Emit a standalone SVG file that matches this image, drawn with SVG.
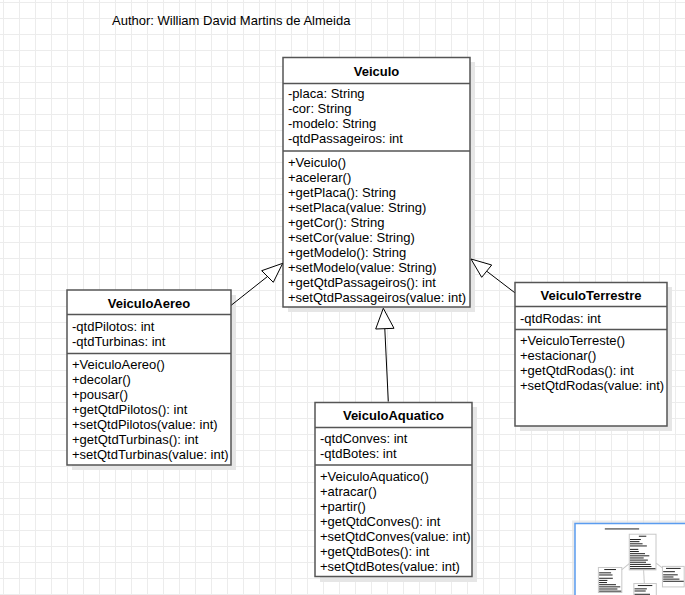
<svg xmlns="http://www.w3.org/2000/svg" width="685" height="595" viewBox="0 0 685 595">
<defs>
<pattern id="grid" x="3" y="2" width="16" height="16" patternUnits="userSpaceOnUse">
<path d="M0.5 0V16M0 0.5H16" stroke="#ececec" stroke-width="1" fill="none"/>
</pattern>
<style>
.box{fill:#fff;stroke:#555;stroke-width:1.5}
.shadow{fill:#e6e6e6}
.div{stroke:#555;stroke-width:1.5}
.t{font-family:"Liberation Sans",Arial,sans-serif;font-size:13px;fill:#000}
.b{font-weight:bold;text-anchor:middle}
.edge{stroke:#000;stroke-width:1;fill:none}
.head{fill:#fff;stroke:#000;stroke-width:1}
.mb{fill:#fff;stroke:#c8c8c8;stroke-width:7}
.bar{fill:#222}
</style>
</defs>
<rect width="685" height="595" fill="#fff"/>
<rect width="685" height="595" fill="url(#grid)"/>

<text class="t" x="112" y="25">Author: William David Martins de Almeida</text>

<g id="Veiculo">
<rect class="shadow" x="288" y="62" width="187" height="250"/>
<rect class="box" x="283" y="57.5" width="187" height="249.5"/>
<line class="div" x1="283" y1="83.5" x2="470" y2="83.5"/>
<line class="div" x1="283" y1="151" x2="470" y2="151"/>
<text class="t b" x="376.5" y="75.5">Veiculo</text>
<text class="t" x="288" y="98">-placa: String</text>
<text class="t" x="288" y="113">-cor: String</text>
<text class="t" x="288" y="128">-modelo: String</text>
<text class="t" x="288" y="143">-qtdPassageiros: int</text>
<text class="t" x="288" y="166.5">+Veiculo()</text>
<text class="t" x="288" y="181.5">+acelerar()</text>
<text class="t" x="288" y="196.5">+getPlaca(): String</text>
<text class="t" x="288" y="211.5">+setPlaca(value: String)</text>
<text class="t" x="288" y="226.5">+getCor(): String</text>
<text class="t" x="288" y="241.5">+setCor(value: String)</text>
<text class="t" x="288" y="256.5">+getModelo(): String</text>
<text class="t" x="288" y="271.5">+setModelo(value: String)</text>
<text class="t" x="288" y="286.5">+getQtdPassageiros(): int</text>
<text class="t" x="288" y="301.5">+setQtdPassageiros(value: int)</text>
</g>

<g id="VeiculoAereo">
<rect class="shadow" x="72" y="295" width="164" height="175"/>
<rect class="box" x="67" y="290" width="164" height="175"/>
<line class="div" x1="67" y1="314.5" x2="231" y2="314.5"/>
<line class="div" x1="67" y1="353.5" x2="231" y2="353.5"/>
<text class="t b" x="149" y="307.5">VeiculoAereo</text>
<text class="t" x="72" y="331">-qtdPilotos: int</text>
<text class="t" x="72" y="346">-qtdTurbinas: int</text>
<text class="t" x="72" y="369">+VeiculoAereo()</text>
<text class="t" x="72" y="384">+decolar()</text>
<text class="t" x="72" y="399">+pousar()</text>
<text class="t" x="72" y="414">+getQtdPilotos(): int</text>
<text class="t" x="72" y="429">+setQtdPilotos(value: int)</text>
<text class="t" x="72" y="444">+getQtdTurbinas(): int</text>
<text class="t" x="72" y="459">+setQtdTurbinas(value: int)</text>
</g>

<g id="VeiculoTerrestre">
<rect class="shadow" x="520" y="287" width="152" height="144"/>
<rect class="box" x="515" y="282.5" width="152" height="143.5"/>
<line class="div" x1="515" y1="306.5" x2="667" y2="306.5"/>
<line class="div" x1="515" y1="329.5" x2="667" y2="329.5"/>
<text class="t b" x="591" y="299.5">VeiculoTerrestre</text>
<text class="t" x="520" y="322.5">-qtdRodas: int</text>
<text class="t" x="520" y="345">+VeiculoTerreste()</text>
<text class="t" x="520" y="360">+estacionar()</text>
<text class="t" x="520" y="375">+getQtdRodas(): int</text>
<text class="t" x="520" y="390">+setQtdRodas(value: int)</text>
</g>

<g id="VeiculoAquatico">
<rect class="shadow" x="320" y="407" width="157" height="175"/>
<rect class="box" x="315" y="402.5" width="157" height="174"/>
<line class="div" x1="315" y1="427.5" x2="472" y2="427.5"/>
<line class="div" x1="315" y1="465" x2="472" y2="465"/>
<text class="t b" x="393.5" y="420">VeiculoAquatico</text>
<text class="t" x="320" y="442.5">-qtdConves: int</text>
<text class="t" x="320" y="457.5">-qtdBotes: int</text>
<text class="t" x="320" y="480.5">+VeiculoAquatico()</text>
<text class="t" x="320" y="495.5">+atracar()</text>
<text class="t" x="320" y="510.5">+partir()</text>
<text class="t" x="320" y="525.5">+getQtdConves(): int</text>
<text class="t" x="320" y="540.5">+setQtdConves(value: int)</text>
<text class="t" x="320" y="555.5">+getQtdBotes(): int</text>
<text class="t" x="320" y="570.5">+setQtdBotes(value: int)</text>
</g>

<g id="connectors">
<line class="edge" x1="231.5" y1="305" x2="267.5" y2="276.5"/>
<polygon class="head" points="282.7,263.3 261.7,270.7 273.3,282.3"/>
<line class="edge" x1="514.5" y1="292.5" x2="486.7" y2="271.2"/>
<polygon class="head" points="471,259 491.7,265 481.7,277.3"/>
<line class="edge" x1="388.3" y1="401.5" x2="384.8" y2="328.7"/>
<polygon class="head" points="383.3,308.3 375.7,329 394,328.3"/>
</g>

<g id="minimap">
<rect x="572" y="520.5" width="120" height="80" fill="#e4e4e4" opacity="0.7"/>
<rect x="575" y="523.5" width="115" height="75" fill="#fff" stroke="#5a9cf0" stroke-width="1.5"/>
<g transform="translate(588.8,526) scale(0.143)">
<rect class="bar" x="112" y="17" width="240" height="7"/>
<rect class="mb" x="283" y="57.5" width="187" height="249.5"/>
<rect class="bar" x="350" y="68" width="52" height="7"/>
<rect class="bar" x="288" y="91" width="76" height="7"/>
<rect class="bar" x="288" y="106" width="66" height="7"/>
<rect class="bar" x="288" y="121" width="88" height="7"/>
<rect class="bar" x="288" y="136" width="118" height="7"/>
<rect class="bar" x="288" y="160" width="58" height="7"/>
<rect class="bar" x="288" y="175" width="62" height="7"/>
<rect class="bar" x="288" y="190" width="105" height="7"/>
<rect class="bar" x="288" y="205" width="135" height="7"/>
<rect class="bar" x="288" y="220" width="96" height="7"/>
<rect class="bar" x="288" y="235" width="125" height="7"/>
<rect class="bar" x="288" y="250" width="112" height="7"/>
<rect class="bar" x="288" y="265" width="145" height="7"/>
<rect class="bar" x="288" y="280" width="150" height="7"/>
<rect class="bar" x="288" y="295" width="178" height="7"/>
<rect class="mb" x="67" y="290" width="164" height="175"/>
<rect class="bar" x="108" y="301" width="82" height="7"/>
<rect class="bar" x="72" y="324" width="84" height="7"/>
<rect class="bar" x="72" y="339" width="94" height="7"/>
<rect class="bar" x="72" y="362" width="96" height="7"/>
<rect class="bar" x="72" y="377" width="58" height="7"/>
<rect class="bar" x="72" y="392" width="55" height="7"/>
<rect class="bar" x="72" y="407" width="118" height="7"/>
<rect class="bar" x="72" y="422" width="148" height="7"/>
<rect class="bar" x="72" y="437" width="128" height="7"/>
<rect class="bar" x="72" y="452" width="155" height="7"/>
<rect class="mb" x="515" y="282.5" width="152" height="143.5"/>
<rect class="bar" x="540" y="293" width="102" height="7"/>
<rect class="bar" x="520" y="316" width="82" height="7"/>
<rect class="bar" x="520" y="338" width="102" height="7"/>
<rect class="bar" x="520" y="353" width="72" height="7"/>
<rect class="bar" x="520" y="368" width="114" height="7"/>
<rect class="bar" x="520" y="383" width="144" height="7"/>
<rect class="mb" x="315" y="402.5" width="157" height="174"/>
<rect class="bar" x="343" y="413" width="101" height="7"/>
<rect class="bar" x="320" y="436" width="86" height="7"/>
<rect class="bar" x="320" y="451" width="78" height="7"/>
<rect class="bar" x="320" y="474" width="108" height="7"/>
<rect class="bar" x="320" y="489" width="56" height="7"/>
<rect class="bar" x="320" y="504" width="46" height="7"/>
<rect class="bar" x="320" y="519" width="120" height="7"/>
<rect class="bar" x="320" y="534" width="148" height="7"/>
<rect class="bar" x="320" y="549" width="112" height="7"/>
<rect class="bar" x="320" y="564" width="140" height="7"/>
<line x1="231.5" y1="305" x2="282.7" y2="263.3" stroke="#c8c8c8" stroke-width="7"/>
<line x1="514.5" y1="292.5" x2="471" y2="259" stroke="#c8c8c8" stroke-width="7"/>
<line x1="388.3" y1="401.5" x2="383.3" y2="308.3" stroke="#c8c8c8" stroke-width="7"/>
</g>
</g>
</svg>
